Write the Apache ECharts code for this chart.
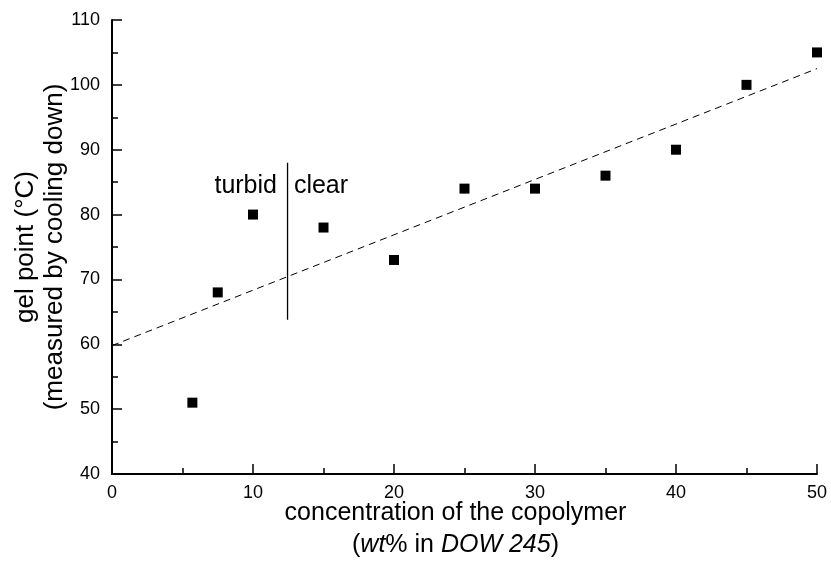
<!DOCTYPE html>
<html>
<head>
<meta charset="utf-8">
<script src="https://cdn.jsdelivr.net/npm/echarts@6/dist/echarts.min.js"></script>
<style>
  html, body { margin: 0; padding: 0; background: #fff; }
  #chart { width: 831px; height: 561px; }
</style>
</head>
<body>
<div id="chart"></div>
<script>
// measured gel points
var concentration = [5.7, 7.5, 10, 15, 20, 25, 30, 35, 40, 45, 50];
var gelPoint = [51, 68, 80, 78, 73, 84, 84, 86, 90, 100, 105];

// linear fit (dashed)
var fitX = [0, 50];
var fitY = [59.8, 102.5];

// turbid / clear boundary
var boundaryX = [12.45, 12.45];
var boundaryY = [63.8, 88];

var regionText = ['turbid', 'clear'];
var regionX = [11.7, 12.9];
var regionY = [84.4, 84.4];

var font = "'Liberation Sans', Arial, Helvetica, sans-serif";

function pairs(xs, ys) {
    var out = [];
    for (var i = 0; i < xs.length; i++) {
        out.push([xs[i], ys[i]]);
    }
    return out;
}

var chart = echarts.init(document.getElementById('chart'));

var option = {
    animation: false,
    grid: { left: 112, right: 14, top: 20, bottom: 87, containLabel: false, outerBoundsMode: 'none' },
    xAxis: {
        type: 'value',
        min: 0,
        max: 50,
        interval: 10,
        name: 'concentration of the copolymer\n({i|wt}% in {i|DOW 245})',
        nameLocation: 'middle',
        nameGap: 23,
        nameMoveOverlap: false,
        nameTextStyle: {
            color: '#000', fontFamily: font, fontSize: 25, lineHeight: 32,
            verticalAlign: 'top', padding: [0, 18, 0, 0],
            rich: { i: { fontStyle: 'italic', fontFamily: font, fontSize: 25, lineHeight: 32, color: '#000' } }
        },
        axisLine: { lineStyle: { color: '#000', width: 2 } },
        axisTick: { inside: true, length: 10, lineStyle: { color: '#000', width: 1.5 } },
        minorTick: { show: true, splitNumber: 2, length: 6, lineStyle: { color: '#000', width: 1.5 } },
        axisLabel: { color: '#000', fontFamily: font, fontSize: 18, margin: 10 },
        splitLine: { show: false }
    },
    yAxis: {
        type: 'value',
        min: 40,
        max: 110,
        interval: 10,
        name: 'gel point (°C)\n(measured by cooling down)',
        nameLocation: 'middle',
        nameRotate: 90,
        nameGap: 43,
        nameMoveOverlap: false,
        nameTextStyle: { color: '#000', fontFamily: font, fontSize: 26, lineHeight: 29 },
        axisLine: { lineStyle: { color: '#000', width: 2 } },
        axisTick: { inside: true, length: 10, lineStyle: { color: '#000', width: 1.5 } },
        minorTick: { show: true, splitNumber: 2, length: 6, lineStyle: { color: '#000', width: 1.5 } },
        axisLabel: { color: '#000', fontFamily: font, fontSize: 18, margin: 12 },
        splitLine: { show: false }
    },
    series: [
        {
            type: 'line',
            data: pairs(fitX, fitY),
            showSymbol: false,
            lineStyle: { color: '#000', width: 1, type: [7, 5] },
            z: 1
        },
        {
            type: 'line',
            data: pairs(boundaryX, boundaryY),
            showSymbol: false,
            lineStyle: { color: '#000', width: 1.3 },
            z: 1
        },
        {
            type: 'scatter',
            data: pairs(concentration, gelPoint),
            symbol: 'rect',
            symbolSize: 10,
            itemStyle: { color: '#000', opacity: 1 },
            z: 3
        },
        {
            type: 'scatter',
            symbolSize: 0,
            itemStyle: { opacity: 1 },
            data: [
                { value: [regionX[0], regionY[0]], label: { position: 'left', formatter: regionText[0] } },
                { value: [regionX[1], regionY[1]], label: { position: 'right', formatter: regionText[1] } }
            ],
            label: { show: true, distance: 0, color: '#000', fontFamily: font, fontSize: 25 },
            silent: true
        }
    ]
};

chart.setOption(option);
</script>
</body>
</html>
